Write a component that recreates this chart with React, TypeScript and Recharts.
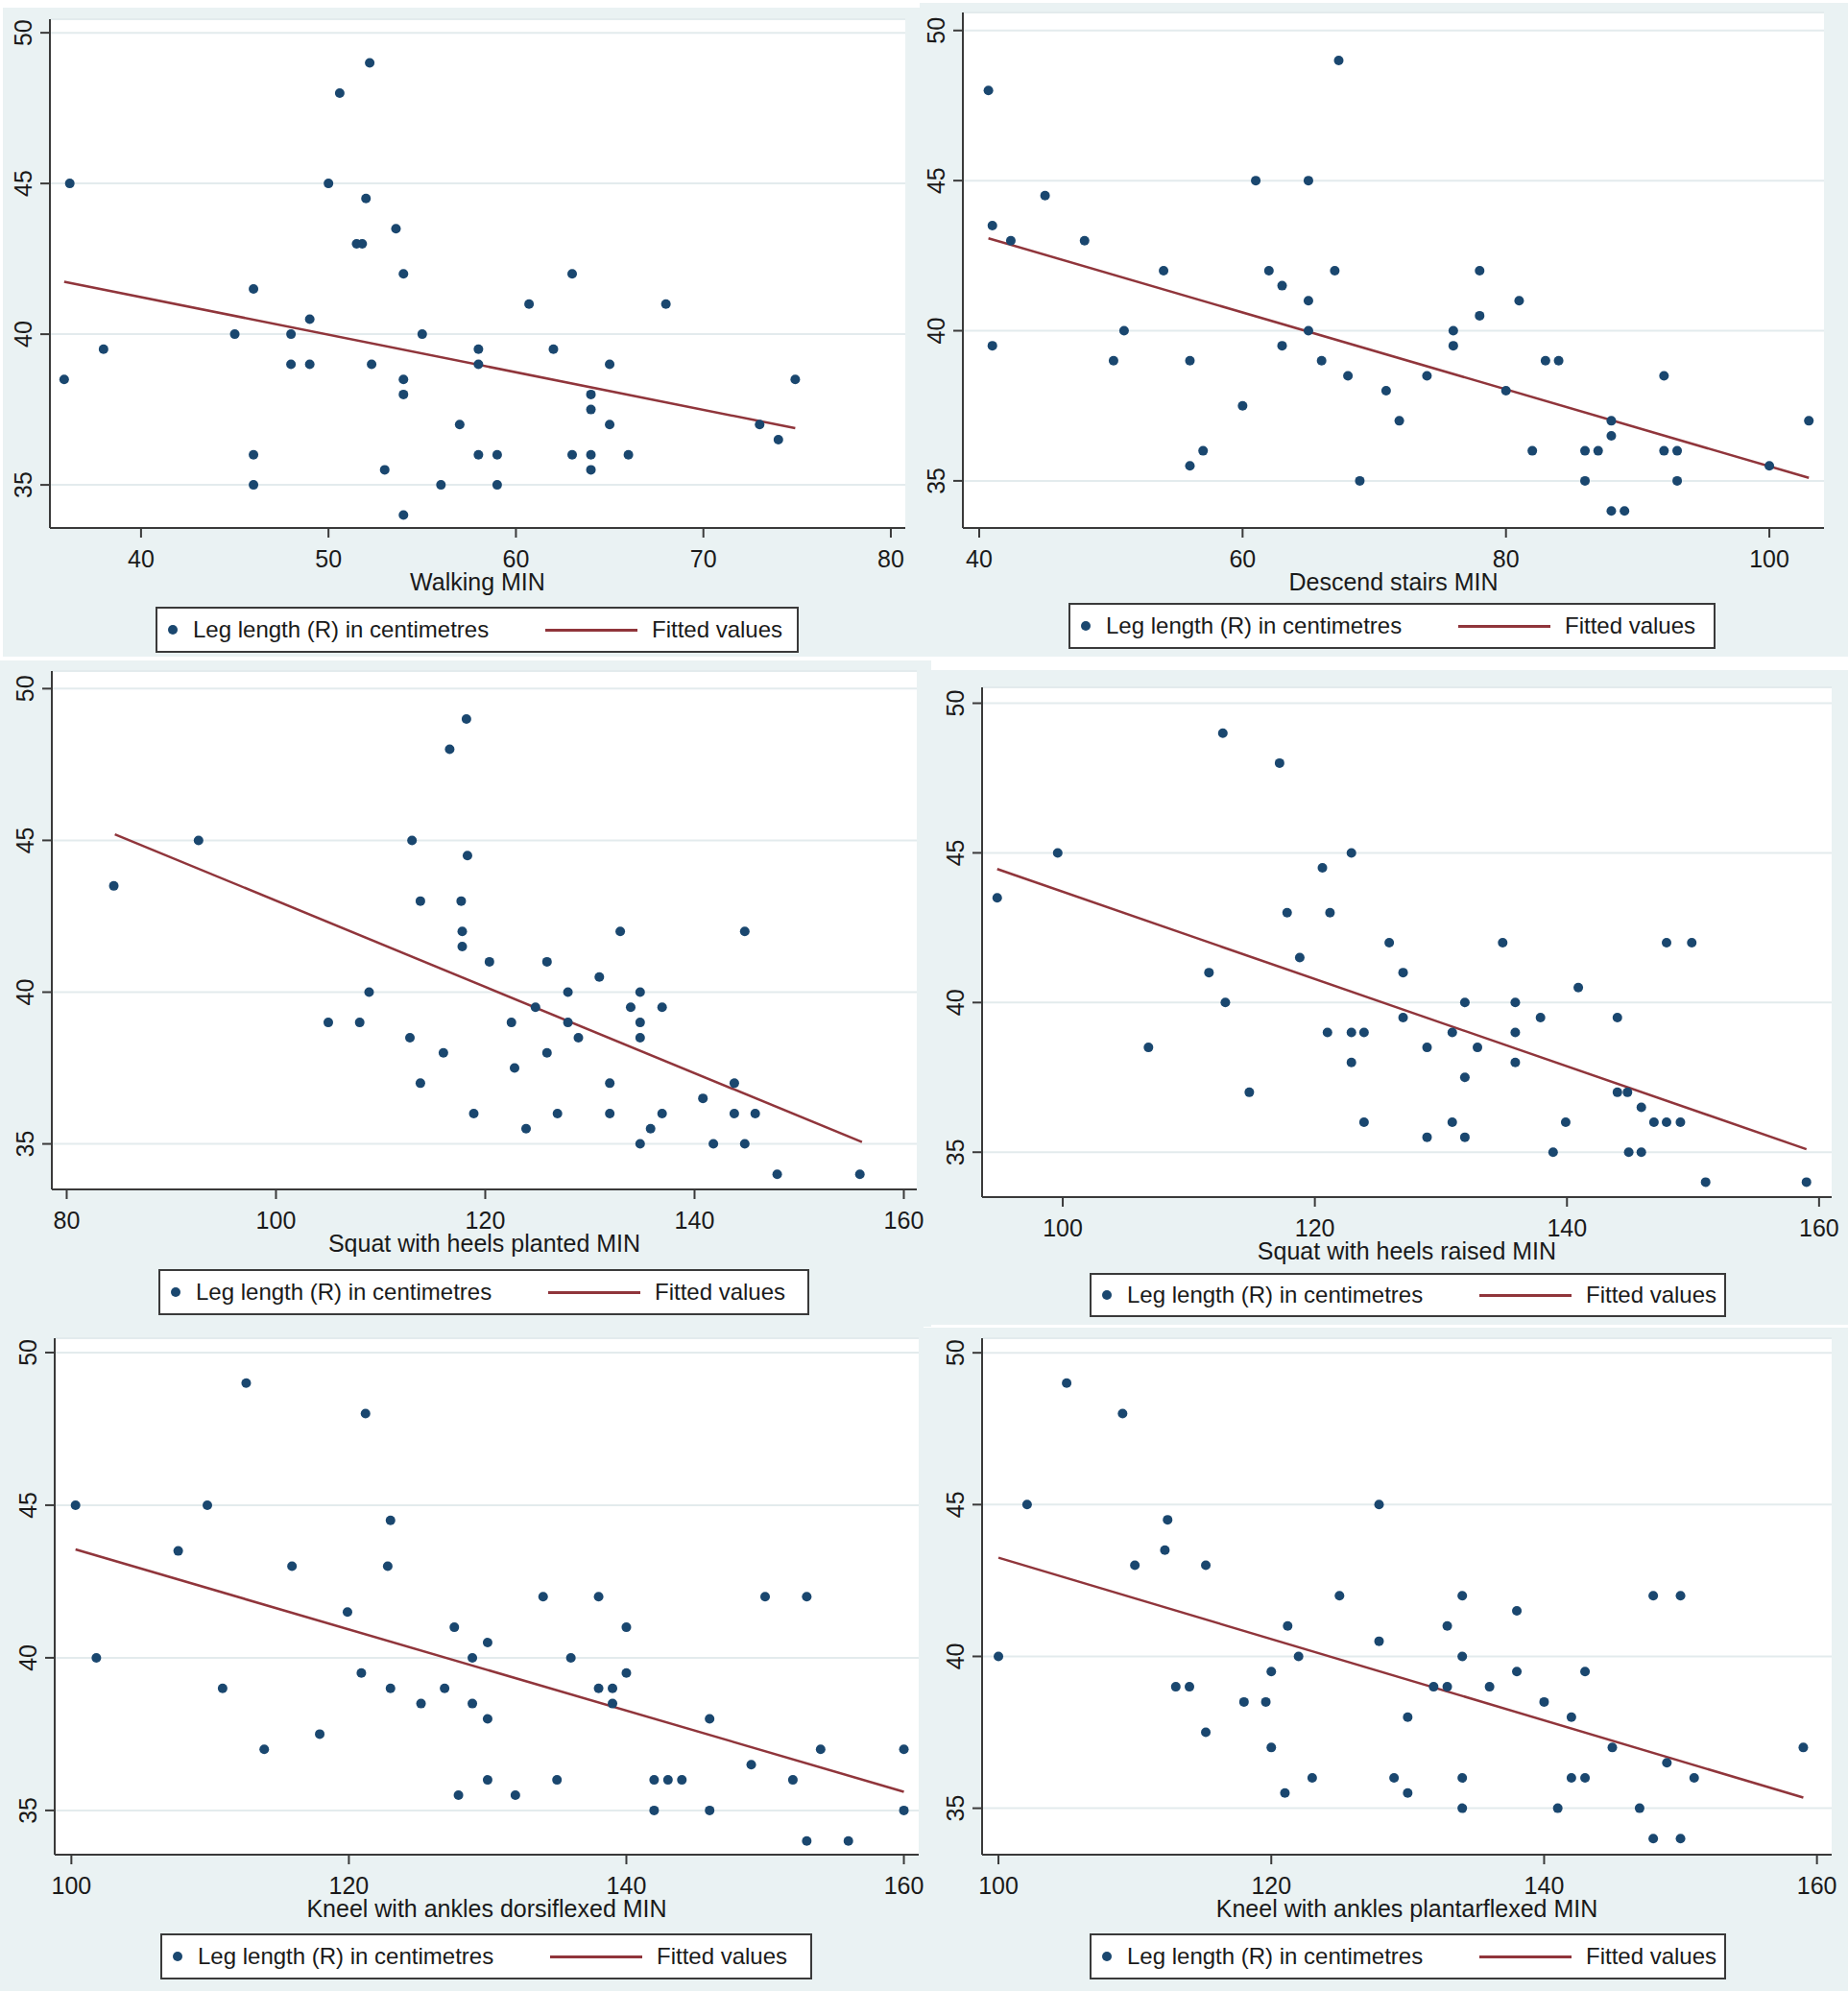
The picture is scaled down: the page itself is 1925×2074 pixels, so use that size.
import React from "react";
import { ScatterChart, Scatter, XAxis, YAxis, CartesianGrid, Label } from "recharts";

type Pt = [number, number];

const FONT = '"Liberation Sans", Arial, sans-serif';
const NAVY = "#1a476f";
const MAROON = "#90353b";
const AXIS = "#3a3a3a";
const PANEL_BG = "#eaf2f3";
const INK = "#1a1a1a";

const SERIES_LABEL = "Leg length (R) in centimetres";
const FIT_LABEL = "Fitted values";

// tick labels
const yTicks = [35, 40, 45, 50];
const walkTicks = [40, 50, 60, 70, 80];
const descendTicks = [40, 60, 80, 100];
const plantedTicks = [80, 100, 120, 140, 160];
const raisedTicks = [100, 120, 140, 160];
const kneelTicks = [100, 120, 140, 160];

// Walking MIN
const walkingPts: Pt[] = [
  [35.9, 38.5], [36.2, 45], [38, 39.5], [45, 40], [46, 41.5], [46, 36], [46, 35], [48, 40], [48, 39],
  [49, 40.5], [49, 39], [50, 45], [50.6, 48], [51.5, 43], [51.8, 43], [52, 44.5], [52.2, 49], [52.3, 39],
  [53, 35.5], [53.6, 43.5], [54, 42], [54, 38.5], [54, 38], [54, 34], [55, 40], [56, 35], [57, 37],
  [58, 39.5], [58, 39], [58, 36], [59, 36], [59, 35], [60.7, 41], [62, 39.5], [63, 42], [63, 36],
  [64, 38], [64, 37.5], [64, 36], [64, 35.5], [65, 39], [65, 37], [66, 36], [68, 41], [73, 37],
  [74, 36.5], [74.9, 38.5],
];
const walkingFit: Pt[] = [[35.9, 41.74], [74.9, 36.88]];

// Descend stairs MIN
const descendPts: Pt[] = [
  [40.7, 48], [41, 43.5], [41, 39.5], [42.4, 43], [45, 44.5], [48, 43], [50.2, 39], [51, 40], [54, 42],
  [56, 39], [56, 35.5], [57, 36], [60, 37.5], [61, 45], [62, 42], [63, 41.5], [63, 39.5], [65, 45],
  [65, 41], [65, 40], [66, 39], [67, 42], [67.3, 49], [68, 38.5], [68.9, 35], [70.9, 38], [71.9, 37],
  [74, 38.5], [76, 40], [76, 39.5], [78, 42], [78, 40.5], [80, 38], [81, 41], [82, 36], [83, 39],
  [84, 39], [86, 36], [86, 35], [87, 36], [88, 37], [88, 36.5], [88, 34], [89, 34], [92, 38.5],
  [92, 36], [93, 36], [93, 35], [100, 35.5], [103, 37],
];
const descendFit: Pt[] = [[40.7, 43.08], [103, 35.1]];

// Squat with heels planted MIN
const plantedPts: Pt[] = [
  [84.5, 43.5], [92.6, 45], [105, 39], [108, 39], [108.9, 40], [112.8, 38.5], [113, 45], [113.8, 43],
  [113.8, 37], [116, 38], [116.6, 48], [117.7, 43], [117.8, 42], [117.8, 41.5], [118.2, 49], [118.3, 44.5],
  [118.9, 36], [120.4, 41], [122.5, 39], [122.8, 37.5], [123.9, 35.5], [124.8, 39.5], [125.9, 41],
  [125.9, 38], [126.9, 36], [127.9, 40], [127.9, 39], [128.9, 38.5], [130.9, 40.5], [131.9, 37],
  [131.9, 36], [132.9, 42], [133.9, 39.5], [134.8, 40], [134.8, 39], [134.8, 38.5], [134.8, 35],
  [135.8, 35.5], [136.9, 39.5], [136.9, 36], [140.8, 36.5], [141.8, 35], [143.8, 37], [143.8, 36],
  [144.8, 42], [144.8, 35], [145.8, 36], [147.9, 34], [155.8, 34],
];
const plantedFit: Pt[] = [[84.6, 45.2], [156, 35.06]];

// Squat with heels raised MIN
const raisedPts: Pt[] = [
  [94.8, 43.5], [99.6, 45], [106.8, 38.5], [111.6, 41], [112.7, 49], [112.9, 40], [114.8, 37], [117.2, 48],
  [117.8, 43], [118.8, 41.5], [120.6, 44.5], [121, 39], [121.2, 43], [122.9, 45], [122.9, 39], [122.9, 38],
  [123.9, 39], [123.9, 36], [125.9, 42], [127, 41], [127, 39.5], [128.9, 38.5], [128.9, 35.5], [130.9, 39],
  [130.9, 36], [131.9, 40], [131.9, 37.5], [131.9, 35.5], [132.9, 38.5], [134.9, 42], [135.9, 40],
  [135.9, 39], [135.9, 38], [137.9, 39.5], [138.9, 35], [139.9, 36], [140.9, 40.5], [144, 39.5], [144, 37],
  [144.8, 37], [144.9, 35], [145.9, 36.5], [145.9, 35], [146.9, 36], [147.9, 42], [147.9, 36], [149, 36],
  [149.9, 42], [151, 34], [159, 34],
];
const raisedFit: Pt[] = [[94.8, 44.46], [159, 35.1]];

// Kneel with ankles dorsiflexed MIN
const dorsiPts: Pt[] = [
  [100.3, 45], [101.8, 40], [107.7, 43.5], [109.8, 45], [110.9, 39], [112.6, 49], [113.9, 37], [115.9, 43],
  [117.9, 37.5], [119.9, 41.5], [120.9, 39.5], [121.2, 48], [122.8, 43], [123, 44.5], [123, 39], [125.2, 38.5],
  [126.9, 39], [127.6, 41], [127.9, 35.5], [128.9, 40], [128.9, 38.5], [130, 40.5], [130, 38], [130, 36],
  [132, 35.5], [134, 42], [135, 36], [136, 40], [138, 42], [138, 39], [139, 39], [139, 38.5], [140, 41],
  [140, 39.5], [142, 36], [142, 35], [143, 36], [144, 36], [146, 38], [146, 35], [149, 36.5], [150, 42],
  [152, 36], [153, 42], [153, 34], [154, 37], [156, 34], [160, 37], [160, 35],
];
const dorsiFit: Pt[] = [[100.3, 43.55], [160, 35.61]];

// Kneel with ankles plantarflexed MIN
const plantarPts: Pt[] = [
  [100, 40], [102.1, 45], [105, 49], [109.1, 48], [110, 43], [112.2, 43.5], [112.4, 44.5], [113, 39],
  [114, 39], [115.2, 43], [115.2, 37.5], [118, 38.5], [119.6, 38.5], [120, 39.5], [120, 37], [121, 35.5],
  [121.2, 41], [122, 40], [123, 36], [125, 42], [127.9, 45], [127.9, 40.5], [129, 36], [130, 38],
  [130, 35.5], [131.9, 39], [132.9, 41], [132.9, 39], [134, 42], [134, 40], [134, 36], [134, 35], [136, 39],
  [138, 41.5], [138, 39.5], [140, 38.5], [141, 35], [142, 38], [142, 36], [143, 39.5], [143, 36], [145, 37],
  [147, 35], [148, 42], [148, 34], [149, 36.5], [150, 42], [150, 34], [151, 36], [159, 37],
];
const plantarFit: Pt[] = [[100, 43.25], [159, 35.35]];

type Rect = [number, number, number, number]; // left, top, right, bottom (page px)

interface PanelSpec {
  title: string;
  pts: Pt[];
  fit: Pt[];
  xTicks: number[];
  xDomain: [number, number];
  yDomain: [number, number];
  bg: Rect;
  plot: Rect;
  legend: Rect;
}

const panels: PanelSpec[] = [
  {
    title: "Walking MIN", pts: walkingPts, fit: walkingFit, xTicks: walkTicks,
    xDomain: [35.14, 80.77], yDomain: [33.57, 50.45],
    bg: [3, 8, 958, 684], plot: [52, 20, 943, 550], legend: [162, 632, 832, 680],
  },
  {
    title: "Descend stairs MIN", pts: descendPts, fit: descendFit, xTicks: descendTicks,
    xDomain: [38.76, 104.15], yDomain: [33.43, 50.6],
    bg: [958, 3, 1925, 684], plot: [1003, 13, 1900, 550], legend: [1113, 628, 1787, 676],
  },
  {
    title: "Squat with heels planted MIN", pts: plantedPts, fit: plantedFit, xTicks: plantedTicks,
    xDomain: [78.58, 161.24], yDomain: [33.5, 50.58],
    bg: [0, 688, 970, 1382], plot: [54, 699, 955, 1239], legend: [165, 1322, 843, 1370],
  },
  {
    title: "Squat with heels raised MIN", pts: raisedPts, fit: raisedFit, xTicks: raisedTicks,
    xDomain: [93.6, 161], yDomain: [33.5, 50.53],
    bg: [957, 698, 1925, 1380], plot: [1023, 716, 1908, 1247], legend: [1135, 1326, 1798, 1372],
  },
  {
    title: "Kneel with ankles dorsiflexed MIN", pts: dorsiPts, fit: dorsiFit, xTicks: kneelTicks,
    xDomain: [98.8, 161.07], yDomain: [33.55, 50.47],
    bg: [0, 1382, 962, 2074], plot: [57, 1394, 957, 1932], legend: [167, 2014, 846, 2062],
  },
  {
    title: "Kneel with ankles plantarflexed MIN", pts: plantarPts, fit: plantarFit, xTicks: kneelTicks,
    xDomain: [98.8, 161.08], yDomain: [33.47, 50.48],
    bg: [960, 1383, 1925, 2074], plot: [1023, 1394, 1908, 1932], legend: [1135, 2014, 1798, 2062],
  },
];

const Y_W = 40;
const X_H = 75;

const YTick = (props: any) => {
  const { x, y, payload } = props;
  const bx = x - 7;
  return (
    <text x={bx} y={y} transform={`rotate(-90, ${bx}, ${y})`} textAnchor="middle"
      fontSize={25} fontFamily={FONT} fill={INK}>
      {payload.value}
    </text>
  );
};

const XTick = (props: any) => {
  const { x, y, payload } = props;
  return (
    <text x={x} y={y + 29} textAnchor="middle" fontSize={25} fontFamily={FONT} fill={INK}>
      {payload.value}
    </text>
  );
};

const Dot = (props: any) => <circle cx={props.cx} cy={props.cy} r={5} fill={NAVY} />;
const NoDot = () => <g />;

function LegendBox({ rect }: { rect: Rect }) {
  const [l, t, r, b] = rect;
  const cell: React.CSSProperties = {
    position: "absolute", top: 0, bottom: 0, display: "flex", alignItems: "center",
  };
  return (
    <div style={{
      position: "absolute", left: l, top: t, width: r - l, height: b - t, boxSizing: "border-box",
      background: "#fff", border: `2px solid ${AXIS}`, fontFamily: FONT, fontSize: 24, color: INK,
    }}>
      <div style={{ ...cell, left: 11 }}>
        <div style={{ width: 10, height: 10, borderRadius: 5, background: NAVY }} />
      </div>
      <div style={{ ...cell, left: 37, whiteSpace: "nowrap" }}>{SERIES_LABEL}</div>
      <div style={{ ...cell, left: 404 }}>
        <div style={{ width: 96, height: 3, background: MAROON }} />
      </div>
      <div style={{ ...cell, left: 515, whiteSpace: "nowrap" }}>{FIT_LABEL}</div>
    </div>
  );
}

function PanelBg({ spec }: { spec: PanelSpec }) {
  const [bl, bt, br, bb] = spec.bg;
  return <div style={{ position: "absolute", left: bl, top: bt, width: br - bl, height: bb - bt, background: PANEL_BG }} />;
}

function Panel({ spec }: { spec: PanelSpec }) {
  const [bl, bt, br, bb] = spec.bg;
  const [pl, pt, pr, pb] = spec.plot;
  const w = br - bl;
  const h = bb - bt;
  const pts = spec.pts.map(([x, y]) => ({ x, y }));
  const fit = spec.fit.map(([x, y]) => ({ x, y }));
  return (
    <>
      <div style={{ position: "absolute", left: bl, top: bt, width: w, height: h }}>
        <ScatterChart
          width={w}
          height={h}
          margin={{ top: pt - bt, right: br - pr, left: pl - bl - Y_W, bottom: bb - pb - X_H }}
        >
          <CartesianGrid vertical={false} fill="#ffffff" stroke="#e3ebed" strokeWidth={2} />
          <XAxis
            type="number" dataKey="x" domain={spec.xDomain} ticks={spec.xTicks} allowDataOverflow
            height={X_H} tickSize={10} tick={<XTick />}
            axisLine={{ stroke: AXIS, strokeWidth: 2 }} tickLine={{ stroke: AXIS, strokeWidth: 2 }}
          >
            <Label
              content={(p: any) => {
                const vb = p.viewBox || {};
                return (
                  <text x={vb.x + vb.width / 2} y={vb.y + 65} textAnchor="middle"
                    fontSize={25} fontFamily={FONT} fill={INK}>
                    {spec.title}
                  </text>
                );
              }}
            />
          </XAxis>
          <YAxis
            type="number" dataKey="y" domain={spec.yDomain} ticks={yTicks} allowDataOverflow
            width={Y_W} tickSize={10} tick={<YTick />}
            axisLine={{ stroke: AXIS, strokeWidth: 2 }} tickLine={{ stroke: AXIS, strokeWidth: 2 }}
          />
          <Scatter data={fit} line={{ stroke: MAROON, strokeWidth: 2.5 }} shape={NoDot} isAnimationActive={false} />
          <Scatter data={pts} shape={Dot} isAnimationActive={false} />
        </ScatterChart>
      </div>
      <LegendBox rect={spec.legend} />
    </>
  );
}

export default function App() {
  return (
    <div style={{ position: "absolute", left: 0, top: 0, width: 1925, height: 2074, background: "#fff" }}>
      <style>{".recharts-surface, .recharts-wrapper { overflow: visible !important; }"}</style>
      {panels.map((p) => (
        <PanelBg key={"bg-" + p.title} spec={p} />
      ))}
      {panels.map((p) => (
        <Panel key={p.title} spec={p} />
      ))}
    </div>
  );
}
